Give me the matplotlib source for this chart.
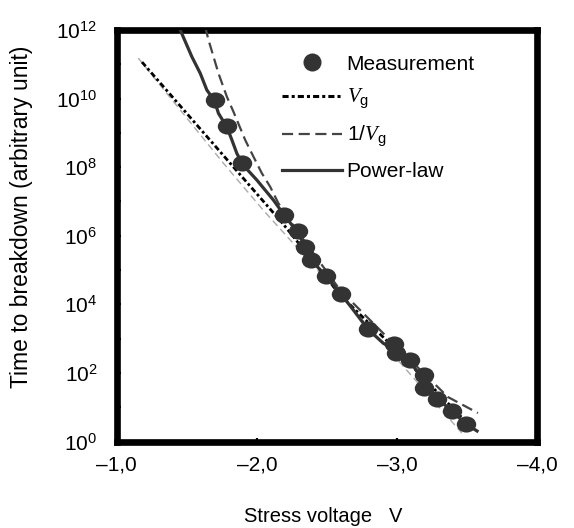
import numpy as np
import matplotlib
matplotlib.use("Agg")
import matplotlib.pyplot as plt
from matplotlib.path import Path
from matplotlib.lines import Line2D
from matplotlib.ticker import FixedLocator, FixedFormatter

plt.rcParams['font.family'] = ['Liberation Sans', 'DejaVu Sans']
plt.rcParams['mathtext.fontset'] = 'custom'
plt.rcParams['mathtext.rm'] = 'Liberation Sans'
plt.rcParams['mathtext.it'] = 'Liberation Serif:italic'
plt.rcParams['mathtext.bf'] = 'Liberation Sans:bold'

# ---- data ----
meas_v = [-1.698, -1.786, -1.893, -2.191, -2.292, -2.342, -2.387, -2.496, -2.599,
          -2.792, -2.979, -2.990, -3.093, -3.195, -3.193, -3.284, -3.391, -3.493]
meas_logt = [9.956, 9.207, 8.128, 6.618, 6.137, 5.671, 5.292, 4.840, 4.300,
             3.271, 2.843, 2.595, 2.376, 1.939, 1.551, 1.230, 0.898, 0.501]

pl_v = [-1.453, -1.536, -1.596, -1.643, -1.695, -1.726, -1.786, -1.822, -1.857, -1.902,
        -2.000, -2.118, -2.195, -2.295, -2.345, -2.394, -2.494, -2.601, -2.689, -2.792,
        -2.903, -3.002, -3.093, -3.193, -3.286, -3.393, -3.493, -3.572]
pl_logt = [12.0, 11.219, 10.735, 10.248, 9.956, 9.569, 9.169, 8.790, 8.402, 8.061,
           7.624, 7.041, 6.603, 6.079, 5.671, 5.262, 4.825, 4.300, 3.834, 3.280,
           2.863, 2.668, 2.318, 1.793, 1.268, 0.889, 0.510, 0.306]

inv_v = [-1.630, -1.655, -1.726, -1.786, -1.833, -1.917, -1.976, -2.036, -2.095, -2.154,
         -2.273, -2.594, -2.986, -3.364, -3.578]
inv_logt = [12.1, 11.706, 10.735, 10.052, 9.615, 8.790, 8.303, 7.819, 7.429, 6.945,
            6.224, 4.417, 2.813, 1.297, 0.831]

vg_v = [-1.180, -2.188, -2.600, -3.000, -3.536]
vg_logt = [11.064, 6.341, 4.250, 2.650, 0.394]

gray_v = [-1.153, -1.760, -2.045, -2.808, -3.463]
gray_logt = [11.18, 8.12, 6.749, 3.30, 0.248]

xticks = [-1.0, -2.0, -3.0, -4.0]
xticklabels = ['\u20131,0', '\u20132,0', '\u20133,0', '\u20134,0']
yticks_major = [0, 2, 4, 6, 8, 10, 12]
yticks_all = list(range(0, 13))

dark = '#333333'

fig = plt.figure(figsize=(5.74, 5.28), dpi=100)
ax = fig.add_axes([116.8 / 574, 1 - 441.5 / 528, (537 - 116.8) / 574, (441.5 - 30) / 528])

t = lambda a: np.power(10.0, np.asarray(a))

ax.plot(gray_v, t(gray_logt), color='#aaaaaa', lw=1.0, ls=(0, (5, 3)), zorder=2)
ax.plot(vg_v, t(vg_logt), color='black', lw=2.0, ls=(0, (2, 1, 1, 1)), zorder=3)
ax.plot(inv_v, t(inv_logt), color='#444444', lw=1.6, ls=(0, (5, 2.5)), zorder=3)
ax.plot(pl_v, t(pl_logt), color=dark, lw=2.3, zorder=4)

uc = Path.unit_circle()
ell = Path(uc.vertices * np.array([1.0, 0.83]), uc.codes)
ax.plot(meas_v, t(meas_logt), ls='none', marker=ell, markersize=14,
        color=dark, markeredgewidth=0, zorder=5)

ax.set_yscale('log')
ax.set_xlim(-1.0, -4.0)
ax.set_ylim(1, 1e12)

ax.xaxis.set_major_locator(FixedLocator(xticks))
ax.xaxis.set_major_formatter(FixedFormatter(xticklabels))
ax.yaxis.set_major_locator(FixedLocator([10.0 ** k for k in yticks_all]))
ax.yaxis.set_major_formatter(FixedFormatter(
    [r'$\mathrm{10^{%d}}$' % k if k in yticks_major else '' for k in yticks_all]))
ax.yaxis.set_minor_locator(FixedLocator([]))

for s in ax.spines.values():
    s.set_linewidth(4.8)
ax.tick_params(axis='both', direction='in', length=3, width=1.6,
               labelsize=15, top=False, right=False)
ax.tick_params(axis='x', pad=10)
ax.tick_params(axis='y', pad=14)

fig.text(22 / 574, 1 - 217 / 528, 'Time to breakdown (arbitrary unit)',
         rotation=90, ha='center', va='center', fontsize=16.5)
fig.text(323 / 574, 1 - 517 / 528, 'Stress voltage   V',
         ha='center', va='center', fontsize=14.5)

handles = [
    Line2D([], [], ls='none', marker='o', markersize=13, color=dark, markeredgewidth=0),
    Line2D([], [], color='black', lw=2.2, ls=(0, (2, 1, 1, 1))),
    Line2D([], [], color='#444444', lw=1.6, ls=(0, (5, 2.5))),
    Line2D([], [], color=dark, lw=2.3),
]
labels = ['Measurement', r'$V_{\mathrm{g}}$', r'1/$V_{\mathrm{g}}$', 'Power-law']
ax.legend(handles, labels, loc='upper left', bbox_to_anchor=(0.393, 0.94),
          frameon=False, fontsize=15, handlelength=2.9, handletextpad=0.2,
          labelspacing=0.62, borderpad=0, borderaxespad=0, numpoints=1)

fig.savefig('out.png', dpi=100)
